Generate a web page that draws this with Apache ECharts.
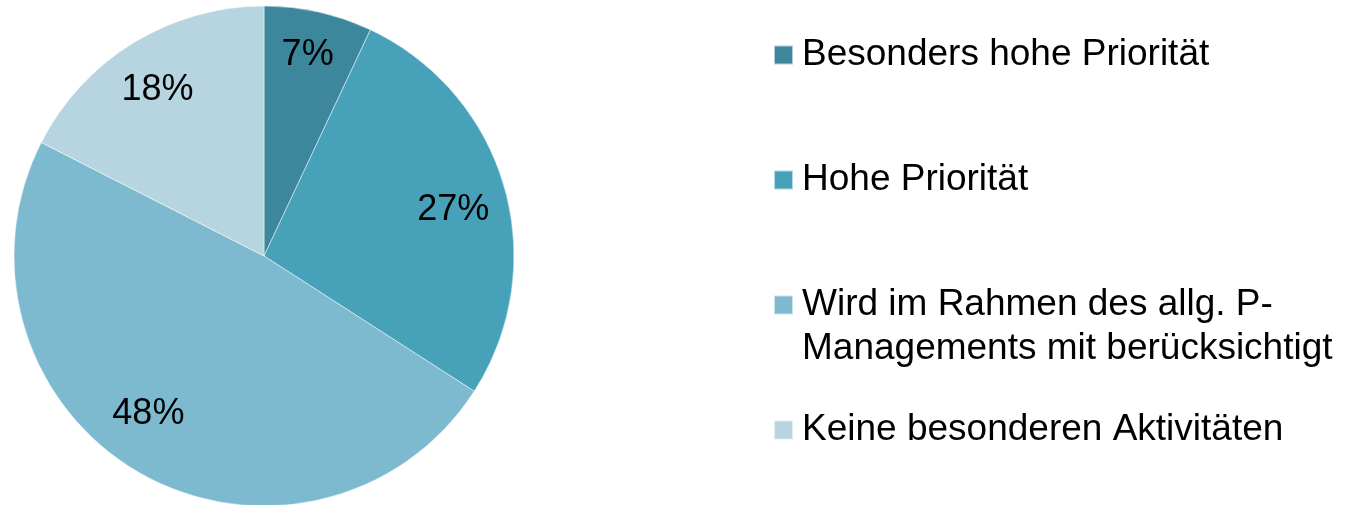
<!DOCTYPE html>
<html>
<head>
<meta charset="utf-8">
<script src="https://cdn.jsdelivr.net/npm/echarts@6/dist/echarts.min.js"></script>
<style>
  html, body { margin: 0; padding: 0; background: #fff; }
  #main { width: 1352px; height: 505px; }
</style>
</head>
<body>
<div id="main"></div>
<script>
// Kategorien und Anteile (in %)
var categories = [
    'Besonders hohe Priorität',
    'Hohe Priorität',
    'Wird im Rahmen des allg. P-\nManagements mit berücksichtigt',
    'Keine besonderen Aktivitäten'
];
var shares = [7.0, 27.1, 48.4, 17.5];
var colors = ['#3c879b', '#47a2b9', '#7db9cf', '#b7d5e0'];

// Feinkorrektur der Beschriftungen (px)
var labelOffsets = [[0, -6], [-3, 9], [-16, -15], [-2, 5]];
// Position der Legendeneinträge (oben, px)
var legendTops = [33, 158, 239, 408];

var font = '"Liberation Sans", Arial, sans-serif';

var pieData = categories.map(function (name, i) {
    return { name: name, value: shares[i], itemStyle: { color: colors[i] } };
});

var legends = categories.map(function (name, i) {
    var multi = name.indexOf('\n') >= 0;
    return {
        data: [name],
        orient: 'vertical',
        left: 773,
        top: legendTops[i],
        padding: 0,
        icon: 'rect',
        itemWidth: 19,
        itemHeight: 19,
        selectedMode: false,
        // leere erste Zeile, damit das Symbol auf Höhe der ersten Textzeile steht
        formatter: function (n) { return multi ? '\n' + n : n; },
        textStyle: {
            fontFamily: font,
            fontSize: 37,
            color: '#000',
            lineHeight: 44,
            padding: [0, 0, 0, 4]
        }
    };
});

var myChart = echarts.init(document.getElementById('main'));
myChart.setOption({
    animation: false,
    legend: legends,
    series: [
        {
            type: 'pie',
            center: [264, 256],
            radius: [0, 250],
            startAngle: 90,
            clockwise: true,
            silent: true,
            itemStyle: {
                borderColor: 'rgba(255,255,255,0.6)',
                borderWidth: 0.8
            },
            label: { show: false },
            labelLine: { show: false },
            data: pieData
        },
        {
            // unsichtbarer Ring nur für die Beschriftungen
            type: 'pie',
            center: [264, 256],
            radius: [144, 250],
            startAngle: 90,
            clockwise: true,
            silent: true,
            itemStyle: { color: 'transparent', borderWidth: 0 },
            label: {
                show: true,
                position: 'inside',
                formatter: '{d}%',
                fontFamily: font,
                fontSize: 36,
                color: '#000'
            },
            labelLine: { show: false },
            percentPrecision: 0,
            data: pieData.map(function (d, i) {
                return { name: d.name, value: d.value, label: { offset: labelOffsets[i] } };
            })
        }
    ]
});
</script>
</body>
</html>
